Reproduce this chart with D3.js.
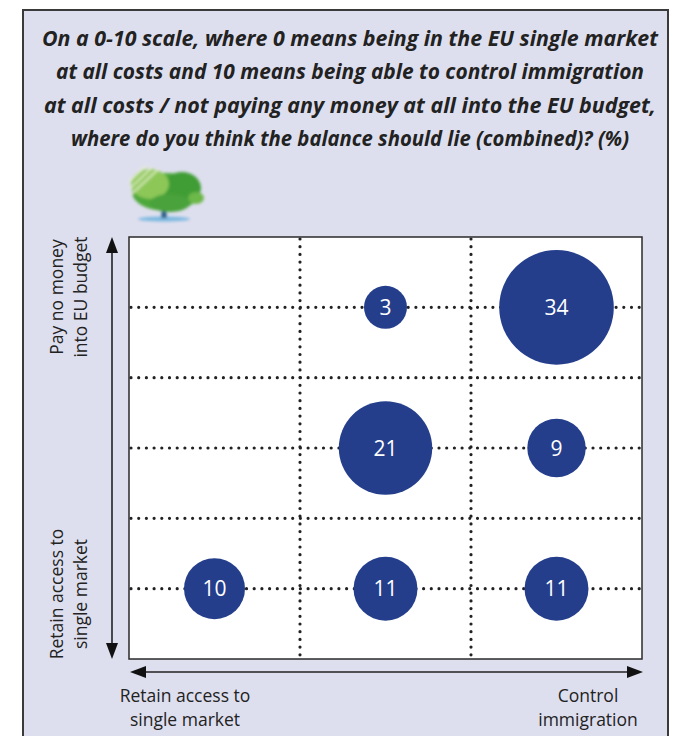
<!DOCTYPE html>
<html>
<head>
<meta charset="utf-8">
<script src="https://cdnjs.cloudflare.com/ajax/libs/d3/7.8.5/d3.min.js"></script>
<style>
body{margin:0;background:#fff;}
svg text{font-family:"Open Sans",sans-serif;fill:#222;}
</style>
</head>
<body>
<div id="chart"></div>
<script>
//bubble grid - single market vs immigration/budget

var titleLines = [
    "On a 0-10 scale, where 0 means being in the EU single market",
    "at all costs and 10 means being able to control immigration",
    "at all costs / not paying any money at all into the EU budget,",
    "where do you think the balance should lie (combined)? (%)"
];
var titleWidths = [616, 588, 612, 558];

//columns left->right, rows top->bottom
var colNames = ["Single market", "Balance", "Immigration"];
var rowNames = ["No money", "Balance", "Retain access"];

var bubbleCol = ["Balance", "Immigration", "Balance", "Immigration", "Single market", "Balance", "Immigration"];
var bubbleRow = ["No money", "No money", "Balance", "Balance", "Retain access", "Retain access", "Retain access"];
var bubbleValue = [3, 34, 21, 9, 10, 11, 11];

var yLabelTop = ["Pay no money", "into EU budget"];
var yLabelBottom = ["Retain access to", "single market"];
var xLabelLeft = ["Retain access to", "single market"];
var xLabelRight = ["Control", "immigration"];

var W = 687, H = 736;
var plot = {left:129, top:237, width:513, height:422};
var dotted = {stroke:"#222", width:3.2, dash:"0,7.7"};

var svg = d3.select("#chart")
    .append("svg")
    .attr("width", W)
    .attr("height", H);

//panel background
svg.append("rect")
    .attr("x", 23)
    .attr("y", 10)
    .attr("width", 645)
    .attr("height", 760)
    .attr("fill", "#dedfee")
    .attr("stroke", "#3a3a3a")
    .attr("stroke-width", 2);

//title
svg.append("g")
    .selectAll("text")
    .data(titleLines)
    .enter()
    .append("text")
    .attr("x", 350)
    .attr("y", (d, i) => 46 + i * 33.3)
    .attr("text-anchor", "middle")
    .attr("textLength", (d, i) => titleWidths[i])
    .attr("lengthAdjust", "spacingAndGlyphs")
    .style("font-size", "22px")
    .style("font-weight", "bold")
    .style("font-style", "italic")
    .text(d => d);

//tree logo
drawTree(svg.append("g").attr("transform", "translate(166,194)"));

var x = d3.scaleBand()
    .domain(colNames)
    .range([plot.left, plot.left + plot.width]);

var y = d3.scaleBand()
    .domain(rowNames)
    .range([plot.top, plot.top + plot.height]);

var r = d3.scaleLinear()
    .domain([3, 10, 21, 34])
    .range([21.5, 30.5, 46.7, 57.3]);

svg.append("rect")
    .attr("x", plot.left)
    .attr("y", plot.top)
    .attr("width", plot.width)
    .attr("height", plot.height)
    .attr("fill", "#fff")
    .attr("stroke", "#2a2a2a")
    .attr("stroke-width", 1.5);

//grid lines (dotted)
var grid = svg.append("g")
    .attr("fill", "none")
    .attr("stroke", dotted.stroke)
    .attr("stroke-width", dotted.width)
    .attr("stroke-linecap", "round")
    .attr("stroke-dasharray", dotted.dash);

grid.selectAll(".vline")
    .data(colNames.slice(1))
    .enter()
    .append("line")
    .attr("class", "vline")
    .attr("x1", d => x(d))
    .attr("x2", d => x(d))
    .attr("y1", plot.top + 2)
    .attr("y2", plot.top + plot.height);

grid.selectAll(".hline")
    .data(rowNames.slice(1))
    .enter()
    .append("line")
    .attr("class", "hline")
    .attr("y1", d => y(d))
    .attr("y2", d => y(d))
    .attr("x1", plot.left + 2)
    .attr("x2", plot.left + plot.width);

grid.selectAll(".cline")
    .data(rowNames)
    .enter()
    .append("line")
    .attr("class", "cline")
    .attr("y1", d => y(d) + y.bandwidth() / 2)
    .attr("y2", d => y(d) + y.bandwidth() / 2)
    .attr("x1", plot.left + 2)
    .attr("x2", plot.left + plot.width);

//bubbles
var bubbles = svg.append("g")
    .selectAll("g")
    .data(bubbleValue)
    .enter()
    .append("g")
    .attr("transform", (d, i) => "translate(" + (x(bubbleCol[i]) + x.bandwidth() / 2) + "," + (y(bubbleRow[i]) + y.bandwidth() / 2) + ")");

bubbles.append("circle")
    .attr("r", d => r(d))
    .attr("fill", "#243e8c");

bubbles.append("text")
    .attr("text-anchor", "middle")
    .attr("dy", "0.36em")
    .style("font-size", "21px")
    .style("fill", "#fff")
    .text(d => d);

//axis arrows
var arrows = svg.append("g");
arrows.append("line")
    .attr("x1", 112).attr("x2", 112)
    .attr("y1", plot.top + 8).attr("y2", plot.top + plot.height - 8)
    .attr("stroke", "#222").attr("stroke-width", 1.6);
arrows.append("path")
    .attr("d", "M112," + plot.top + "l-6,16h12z")
    .attr("fill", "#111");
arrows.append("path")
    .attr("d", "M112," + (plot.top + plot.height) + "l-6,-16h12z")
    .attr("fill", "#111");

arrows.append("line")
    .attr("y1", 672).attr("y2", 672)
    .attr("x1", plot.left + 8).attr("x2", plot.left + plot.width - 8)
    .attr("stroke", "#222").attr("stroke-width", 1.6);
arrows.append("path")
    .attr("d", "M" + (plot.left + 1) + ",672l16,-6v12z")
    .attr("fill", "#111");
arrows.append("path")
    .attr("d", "M" + (plot.left + plot.width + 1) + ",672l-16,-6v12z")
    .attr("fill", "#111");

//axis labels
addRotatedLabel(yLabelTop, 297);
addRotatedLabel(yLabelBottom, 594);
addLabel(xLabelLeft, 185);
addLabel(xLabelRight, 588);

function addRotatedLabel(lines, cy){
    svg.append("g")
        .attr("transform", "translate(0," + cy + ") rotate(-90)")
        .selectAll("text")
        .data(lines)
        .enter()
        .append("text")
        .attr("x", 0)
        .attr("y", (d, i) => 63 + i * 24)
        .attr("text-anchor", "middle")
        .style("font-size", "17.5px")
        .text(d => d);
}

function addLabel(lines, cx){
    svg.append("g")
        .selectAll("text")
        .data(lines)
        .enter()
        .append("text")
        .attr("x", cx)
        .attr("y", (d, i) => 702 + i * 24)
        .attr("text-anchor", "middle")
        .style("font-size", "17.5px")
        .text(d => d);
}

function drawTree(g){
    var defs = svg.append("defs");
    defs.append("filter")
        .attr("id", "soft")
        .append("feGaussianBlur")
        .attr("stdDeviation", 1.5);
    g.attr("filter", "url(#soft)");
    //base and trunk
    g.append("ellipse").attr("cx", -2).attr("cy", 25).attr("rx", 26).attr("ry", 2.5).attr("fill", "#7bb8e0");
    g.append("path").attr("d", "M-5,24 L-3,8 L-1,8 L1,24z").attr("fill", "#2c5a86");
    //canopy
    g.append("ellipse").attr("cx", 0).attr("cy", -2).attr("rx", 34).attr("ry", 19).attr("fill", "#4ea83a");
    g.append("ellipse").attr("cx", 16).attr("cy", -6).attr("rx", 19).attr("ry", 16).attr("fill", "#3f9d34");
    g.append("ellipse").attr("cx", -16).attr("cy", -10).attr("rx", 19).attr("ry", 15).attr("fill", "#8cc758");
    g.append("ellipse").attr("cx", 4).attr("cy", 9).attr("rx", 20).attr("ry", 9).attr("fill", "#49a23a");
    g.append("ellipse").attr("cx", 30).attr("cy", 4).attr("rx", 8).attr("ry", 6).attr("fill", "#6cb84a");
    //light streaks
    [-14, -8, -2].forEach(function(o){
        g.append("line")
            .attr("x1", -34 + o * 0.2).attr("y1", 2 + o)
            .attr("x2", -6 + o).attr("y2", -24 + o * 0.3)
            .attr("stroke", "#e4f0c8").attr("stroke-width", 2.2).attr("opacity", 0.8);
    });
}
</script>
</body>
</html>
